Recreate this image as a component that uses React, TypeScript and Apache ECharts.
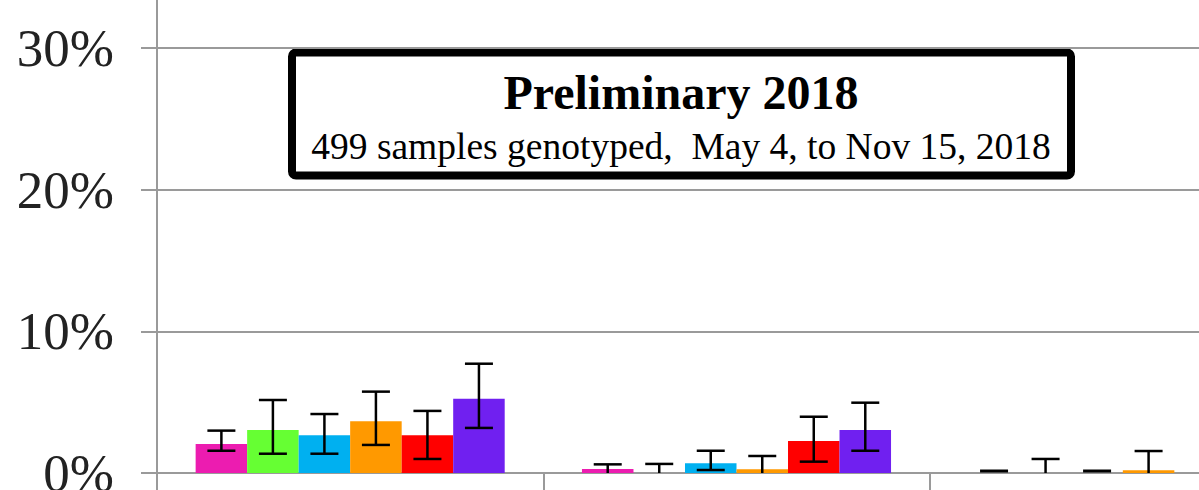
import React, { useEffect, useRef } from "react";
import * as echarts from "echarts";

// ---- data (percent) ----
const categories = ["Group 1", "Group 2", "Group 3"];
const seriesNames = ["Genotype 1", "Genotype 2", "Genotype 3", "Genotype 4", "Genotype 5", "Genotype 6"];
const seriesColors = ["#EC1CB0", "#66FF33", "#00B0F0", "#FF9900", "#FF0000", "#7020F0"];

const values1 = [2.05, 0.28, 0];
const values2 = [3.03, 0, 0];
const values3 = [2.66, 0.68, 0];
const values4 = [3.65, 0.26, 0.2];
const values5 = [2.66, 2.26, 0];
const values6 = [5.24, 3.03, 0];

// null = no error bar drawn
const low1 = [1.57, 0, 0];
const low2 = [1.36, 0, 0];
const low3 = [1.36, 0.21, 0];
const low4 = [1.98, 0, 0];
const low5 = [0.99, 0.8, null];
const low6 = [3.18, 1.57, null];

const high1 = [2.99, 0.61, 0];
const high2 = [5.15, 0.64, 0.99];
const high3 = [4.16, 1.57, 0];
const high4 = [5.74, 1.2, 1.55];
const high5 = [4.38, 3.97, null];
const high6 = [7.71, 4.96, null];

const yTicks = [0, 10, 20, 30];

const allValues = [values1, values2, values3, values4, values5, values6];
const allLows = [low1, low2, low3, low4, low5, low6];
const allHighs = [high1, high2, high3, high4, high5, high6];

// the visible window shows only part of the full chart
const OFFSET_Y = 100;
const FULL_W = 1330;
const FULL_H = 590;

export default function App() {
  const ref = useRef<HTMLDivElement>(null);

  useEffect(() => {
    if (!ref.current) return;
    const chart = echarts.init(ref.current, null, { renderer: "svg", width: FULL_W, height: FULL_H });
    const gridColor = "#9a9a9a";
    const barGroupRatio = 0.8;

    const errData: number[][] = [];
    allValues.forEach((_, s) => {
      categories.forEach((__, c) => {
        const lo = allLows[s][c];
        const hi = allHighs[s][c];
        if (lo !== null && hi !== null) errData.push([c, s, lo as number, hi as number]);
      });
    });

    const barSeries = seriesNames.map((name, i) => ({
      name,
      type: "bar",
      data: allValues[i],
      barGap: "0%",
      barCategoryGap: "20%",
      itemStyle: { color: seriesColors[i] },
      z: 2,
    }));

    chart.setOption({
      animation: false,
      backgroundColor: "#ffffff",
      grid: { left: 157, right: 14, top: 6, bottom: 17, containLabel: false, outerBoundsMode: "none" },
      xAxis: {
        type: "category",
        data: categories,
        axisLine: { show: true, lineStyle: { color: gridColor, width: 2 } },
        axisTick: { show: true, length: 22, lineStyle: { color: gridColor, width: 2 } },
        axisLabel: { show: false },
        splitLine: { show: false },
      },
      yAxis: {
        type: "value",
        min: 0,
        max: 40,
        interval: 10,
        axisLine: { show: true, lineStyle: { color: gridColor, width: 2 } },
        axisTick: { show: true, length: 16, lineStyle: { color: gridColor, width: 2 } },
        splitLine: { show: true, lineStyle: { color: gridColor, width: 2 } },
        axisLabel: {
          margin: 43,
          fontFamily: "Liberation Serif",
          fontSize: 53,
          color: "#222",
          formatter: (v: number) => (yTicks.indexOf(v) >= 0 ? v + "%" : ""),
        },
      },
      series: [
        ...barSeries,
        {
          type: "custom",
          name: "error",
          data: errData,
          encode: { x: 0, y: [2, 3] },
          z: 5,
          renderItem: (params: any, api: any) => {
            const c = api.value(0);
            const s = api.value(1);
            const lo = api.value(2);
            const hi = api.value(3);
            const band = api.size([1, 0])[0];
            const bw = (band * barGroupRatio) / seriesNames.length;
            const pLo = api.coord([c, lo]);
            const pHi = api.coord([c, hi]);
            const x = pLo[0] + (s - (seriesNames.length - 1) / 2) * bw;
            const half = 14;
            const st = { stroke: "#000", lineWidth: 2.5 };
            const children: any[] = [];
            if (hi === 0 && lo === 0) {
              children.push({ type: "line", shape: { x1: x - half, y1: pLo[1] - 2, x2: x + half, y2: pLo[1] - 2 }, style: { stroke: "#000", lineWidth: 3 } });
            } else {
              children.push({ type: "line", shape: { x1: x, y1: pHi[1], x2: x, y2: pLo[1] }, style: st });
              children.push({ type: "line", shape: { x1: x - half, y1: pHi[1], x2: x + half, y2: pHi[1] }, style: st });
              if (lo > 0) {
                children.push({ type: "line", shape: { x1: x - half, y1: pLo[1], x2: x + half, y2: pLo[1] }, style: st });
              }
            }
            return { type: "group", children };
          },
        },
      ],
      graphic: [
        {
          type: "group",
          z: 100,
          children: [
            {
              type: "rect",
              shape: { x: 292, y: 52.5 + OFFSET_Y, width: 779, height: 123, r: 4 },
              style: { fill: "#ffffff", stroke: "#000", lineWidth: 8 },
            },
            {
              type: "text",
              x: 681,
              y: 92 + OFFSET_Y,
              style: {
                text: "Preliminary 2018",
                fontFamily: "Liberation Serif",
                fontWeight: "bold",
                fontSize: 48,
                fill: "#000",
                align: "center",
                verticalAlign: "middle",
              },
            },
            {
              type: "text",
              x: 681,
              y: 146 + OFFSET_Y,
              style: {
                text: "499 samples genotyped,\u00a0 May 4, to Nov 15, 2018",
                fontFamily: "Liberation Serif",
                fontSize: 37.5,
                fill: "#000",
                align: "center",
                verticalAlign: "middle",
              },
            },
          ],
        },
      ],
    });

    return () => chart.dispose();
  }, []);

  return (
    <div
      style={{ position: "fixed", left: 0, top: 0, width: 1199, height: 490, overflow: "hidden", background: "#fff" }}
    >
      <div
        ref={ref}
        style={{ position: "absolute", left: 0, top: -OFFSET_Y, width: FULL_W, height: FULL_H }}
      />
    </div>
  );
}
